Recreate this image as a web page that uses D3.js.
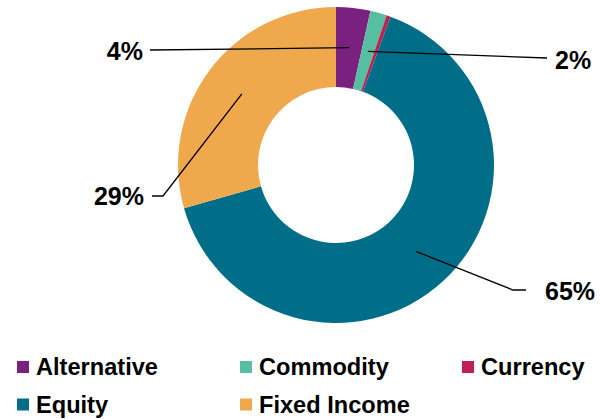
<!DOCTYPE html>
<html><head><meta charset="utf-8">
<script src="https://cdn.jsdelivr.net/npm/d3@7"></script>
<style>body{margin:0;background:#fff;}svg{display:block;}</style>
</head><body>
<svg id="c" width="600" height="419"></svg>
<script>
const categories = ["Alternative","Commodity","Currency","Equity","Fixed Income"];
const values = [3.5, 1.7, 0.4, 65.0, 29.4];
const valueLabels = ["4%","2%","","65%","29%"];
const colors = ["#7A217F","#56BFA1","#C11F4F","#006E89","#F0A84D"];

const W=600,H=419, cx=336, cy=165, rOuter=158, rInner=78;
const font = "'Liberation Sans', Arial, sans-serif";
const svg = d3.select("#c");
const g = svg.append("g").attr("transform",`translate(${cx},${cy})`);
const data = categories.map((c,i)=>({cat:c,value:values[i],label:valueLabels[i],color:colors[i]}));
const pie = d3.pie().value(d=>d.value).sort(null);
const arc = d3.arc().innerRadius(rInner).outerRadius(rOuter);
const midArc = d3.arc().innerRadius((rInner+rOuter)/2).outerRadius((rInner+rOuter)/2);
const arcs = pie(data);
g.selectAll("path.s").data(arcs).join("path").attr("class","s")
  .attr("d",arc).attr("fill",d=>d.data.color);

// label layout (absolute positions of label anchors)
const labelLayout = {
  "Alternative": {pts:[[150,50]], tx:143, ty:51, anchor:"end"},
  "Commodity":   {pts:[[547,58]], tx:555, ty:60, anchor:"start"},
  "Equity":      {pts:[[513,290],[526,290]], tx:545, ty:291, anchor:"start"},
  "Fixed Income":{pts:[[163,196],[152,196]], tx:144, ty:196, anchor:"end"}
};
arcs.forEach(a=>{
  const L = labelLayout[a.data.cat];
  if(!L || !a.data.label) return;
  const c = midArc.centroid(a);
  const pts = [[c[0]+cx,c[1]+cy], ...L.pts];
  svg.append("path").attr("d", d3.line()(pts)).attr("fill","none")
    .attr("stroke","#000").attr("stroke-width",1.3);
  svg.append("text").attr("x",L.tx).attr("y",L.ty).attr("dy","0.36em")
    .attr("text-anchor",L.anchor).attr("font-family",font).attr("font-weight","bold")
    .attr("font-size",25).attr("fill","#000").text(a.data.label);
});

// legend
const colX=[17,240,462], rowY=[367,404.5];
data.forEach((d,i)=>{
  const x=colX[i%3], y=rowY[Math.floor(i/3)];
  svg.append("rect").attr("x",x).attr("y",y-6).attr("width",12).attr("height",12).attr("fill",d.color);
  svg.append("text").attr("x",x+19).attr("y",y).attr("dy","0.36em")
    .attr("font-family",font).attr("font-weight","bold").attr("font-size",23.6)
    .attr("fill","#000").text(d.cat);
});
</script>
</body></html>
